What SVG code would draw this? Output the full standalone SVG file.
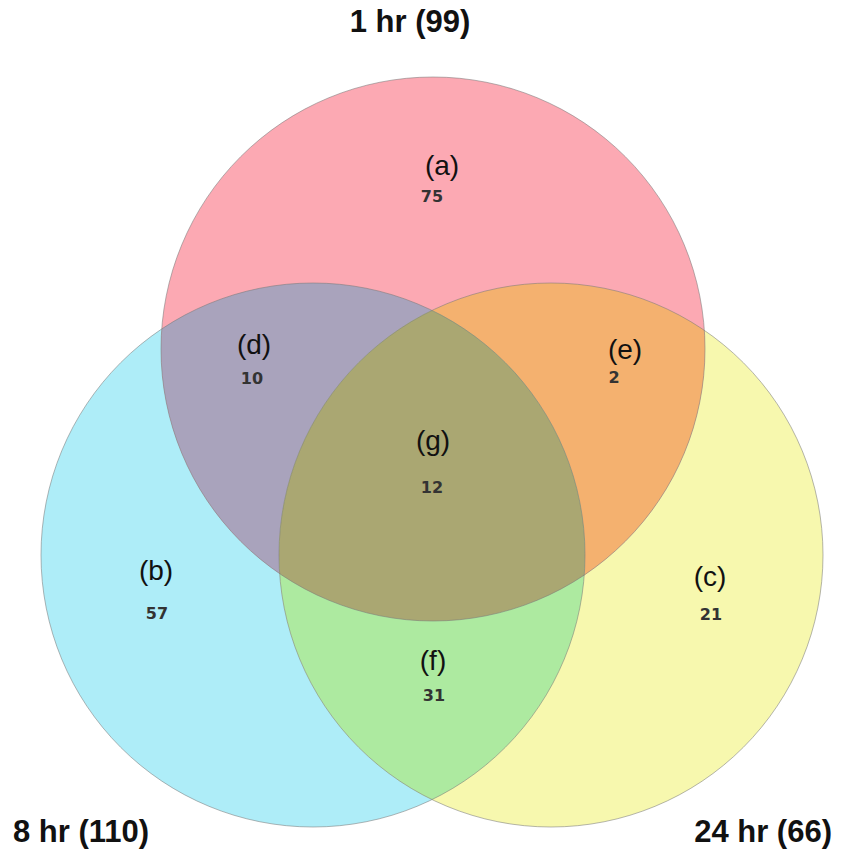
<svg xmlns="http://www.w3.org/2000/svg" width="845" height="854" viewBox="0 0 845 854">
  <style>
    .title { font-family: "Liberation Sans", Arial, sans-serif; font-weight: bold; font-size: 31px; fill: #111; }
    .lbl { font-family: "Liberation Sans", Arial, sans-serif; font-size: 28px; fill: #111; text-anchor: middle; }
    .num { font-family: "DejaVu Sans", sans-serif; font-weight: bold; font-size: 16px; fill: #333; text-anchor: middle; }
    .edge { fill: none; stroke: #7a7a7a; stroke-opacity: 0.55; stroke-width: 1; }
  </style>
  <defs>
    <circle id="cA" cx="433" cy="349" r="272"/>
    <circle id="cB" cx="313" cy="555" r="272"/>
    <circle id="cC" cx="551" cy="555" r="272"/>
    <clipPath id="clipA"><use href="#cA"/></clipPath>
    <clipPath id="clipB"><use href="#cB"/></clipPath>
    <clipPath id="clipC"><use href="#cC"/></clipPath>
  </defs>
  <rect width="845" height="854" fill="#ffffff"/>

  <!-- sets -->
  <g id="set-8hr"><use href="#cB" fill="#AEEDF8"/></g>
  <g id="set-24hr"><use href="#cC" fill="#F7F8AE"/></g>
  <g id="set-1hr"><use href="#cA" fill="#FCA9B3"/></g>

  <!-- pairwise and triple overlaps -->
  <g id="region-d" clip-path="url(#clipB)"><use href="#cA" fill="#A9A3BC"/></g>
  <g id="region-e" clip-path="url(#clipC)"><use href="#cA" fill="#F4B16F"/></g>
  <g id="region-f" clip-path="url(#clipC)"><use href="#cB" fill="#ADEAA0"/></g>
  <g id="region-g" clip-path="url(#clipC)"><g clip-path="url(#clipB)"><use href="#cA" fill="#AAA772"/></g></g>

  <!-- circle outlines -->
  <g id="outlines">
    <use href="#cB" class="edge"/>
    <use href="#cC" class="edge"/>
    <use href="#cA" class="edge"/>
  </g>

  <!-- set titles -->
  <text class="title" x="410" y="32" text-anchor="middle">1 hr (99)</text>
  <text class="title" x="13" y="842">8 hr (110)</text>
  <text class="title" x="832" y="842" text-anchor="end">24 hr (66)</text>

  <!-- region labels and counts -->
  <text class="lbl" x="442" y="175">(a)</text>
  <text class="num" x="432" y="202">75</text>

  <text class="lbl" x="156" y="580">(b)</text>
  <text class="num" x="157" y="619">57</text>

  <text class="lbl" x="710" y="586">(c)</text>
  <text class="num" x="711" y="620">21</text>

  <text class="lbl" x="254" y="354">(d)</text>
  <text class="num" x="252" y="384">10</text>

  <text class="lbl" x="625" y="359">(e)</text>
  <text class="num" x="614" y="383">2</text>

  <text class="lbl" x="433" y="670">(f)</text>
  <text class="num" x="434" y="701">31</text>

  <text class="lbl" x="433" y="450">(g)</text>
  <text class="num" x="432" y="493">12</text>
</svg>
